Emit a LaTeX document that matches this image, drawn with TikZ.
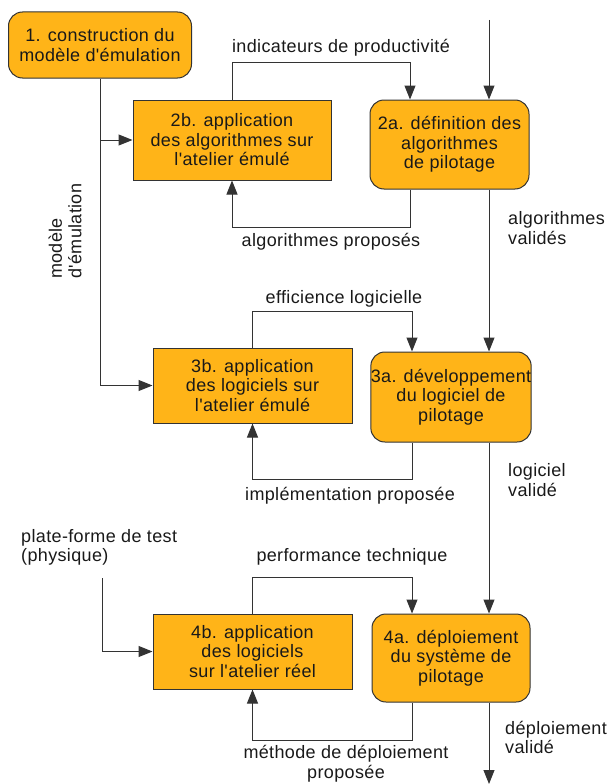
\documentclass[tikz,border=0pt]{standalone}
\usepackage{fontspec}
\newfontfamily\diagfont{Liberation Sans}[LetterSpace=2]
\usetikzlibrary{arrows.meta}
\definecolor{boxfill}{HTML}{FFB418}
\definecolor{linec}{HTML}{333333}
\begin{document}
\begin{tikzpicture}[x=1pt,y=-1pt,
  every node/.style={font=\diagfont\fontsize{18}{19.5}\selectfont, text=black!90},
  rbox/.style={draw=linec, line width=1pt, fill=boxfill, rounded corners=14pt, inner sep=0pt, align=center},
  sbox/.style={draw=linec, line width=1pt, fill=boxfill, inner sep=0pt, align=center},
  conn/.style={draw=linec, line width=1pt},
  arr/.style={conn, -{Triangle[length=14pt,width=11pt]}},
  lbl/.style={inner sep=0pt, align=center},
  lbll/.style={inner sep=0pt, align=left, anchor=west}]
\useasboundingbox (0,0) rectangle (608,784);

% boxes
\node[rbox, minimum width=183pt, minimum height=66pt] (n1) at (100,45) {1. construction du\\modèle d'émulation};
\node[sbox, minimum width=198pt, minimum height=80pt] (n2b) at (232,140) {2b. application\\des algorithmes sur\\l'atelier émulé};
\node[rbox, minimum width=159pt, minimum height=89pt] (n2a) at (449.5,144.5) {2a. définition des\\algorithmes\\de pilotage};
\node[sbox, minimum width=199pt, minimum height=75pt] (n3b) at (252.5,385.5) {3b. application\\des logiciels sur\\l'atelier émulé};
\node[rbox, minimum width=158pt, minimum height=90pt] (n3a) at (451,397) {3a. développement\\du logiciel de\\pilotage};
\node[sbox, minimum width=199pt, minimum height=75pt] (n4b) at (252.5,651.5) {4b. application\\des logiciels\\sur l'atelier réel};
\node[rbox, minimum width=158pt, minimum height=88pt] (n4a) at (451,658) {4a. déploiement\\du système de\\pilotage};

% coordinates
\coordinate (top) at (489,20);
\coordinate (bot) at (489,784);
\coordinate (f2) at (410,63);
\coordinate (g2) at (410,227);
\coordinate (f3) at (412,311);
\coordinate (g3) at (412,479);
\coordinate (f4) at (412,577);
\coordinate (g4) at (412,740);
\coordinate (p) at (102,578);

% left input lines
\draw[conn] (n1.south) -- (n1.south |- n3b.west);
\draw[arr] (n1.south |- n2b.west) -- (n2b.west);
\draw[arr] (n1.south |- n3b.west) -- (n3b.west);
\draw[arr] (p) |- (n4b.west);

% main right line
\draw[arr] (top) -- (top |- n2a.north);
\draw[arr] (top |- n2a.south) -- (top |- n3a.north);
\draw[arr] (top |- n3a.south) -- (top |- n4a.north);
\draw[arr] (top |- n4a.south) -- (bot);

% feedback loops
\draw[arr] (n2b.north) |- (f2) -- (f2 |- n2a.north);
\draw[arr] (g2 |- n2a.south) -- (g2) -| (n2b.south);
\draw[arr] (n3b.north) |- (f3) -- (f3 |- n3a.north);
\draw[arr] (g3 |- n3a.south) -- (g3) -| (n3b.south);
\draw[arr] (n4b.north) |- (f4) -- (f4 |- n4a.north);
\draw[arr] (g4 |- n4a.south) -- (g4) -| (n4b.south);

% labels
\node[lbl] (l1) at (341,48) {indicateurs de productivité};
\node[lbl] (l2) at (331,242) {algorithmes proposés};
\node[lbl] (l3) at (344,299) {efficience logicielle};
\node[lbl] (l4) at (350,496) {implémentation proposée};
\node[lbl] (l5) at (352,557) {performance technique};
\node[lbl] (l6) at (346,763.5) {méthode de déploiement\\proposée};
\node[lbll] (r1) at (508,228) {algorithmes\\validés};
\node[lbll] (r2) at (508,480) {logiciel\\validé};
\node[lbll] (r3) at (505,737.5) {déploiement\\validé};
\node[lbll] (pl) at (21,547.5) {plate-forme de test\\(physique)};
\node[lbl, rotate=90, anchor=west, align=left] (me) at (65,279) {modèle\\d'émulation};
\end{tikzpicture}
\end{document}
